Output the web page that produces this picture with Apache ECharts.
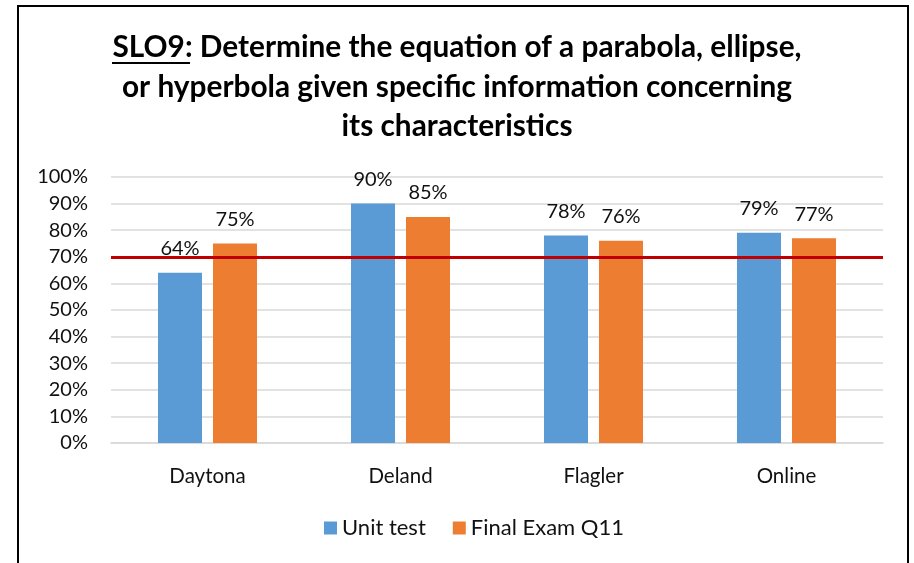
<!DOCTYPE html>
<html>
<head>
<meta charset="utf-8">
<script src="https://cdn.jsdelivr.net/npm/echarts@6/dist/echarts.min.js"></script>
<style>
  html, body { margin: 0; padding: 0; background: #fff; }
  #chart { width: 914px; height: 563px; }
</style>
</head>
<body>
<div id="chart"></div>
<script>
// 数据
const campuses = ['Daytona', 'Deland', 'Flagler', 'Online'];
const unitTest = [64, 90, 78, 79];
const finalExam = [75, 85, 76, 77];
const targetLine = 70;
const titleLines = [
  '{u|SLO9}: Determine the equation of a parabola, ellipse,',
  'or hyperbola given specific information concerning',
  'its characteristics'
];

const chart = echarts.init(document.getElementById('chart'));
const font = 'Lato, "Noto Sans", sans-serif';

const option = {
  animation: false,
  backgroundColor: '#fff',
  textStyle: { fontFamily: font },
  title: {
    text: titleLines.join('\n'),
    left: 'center',
    top: 28,
    padding: [0, 0, 0, 10],
    textStyle: {
      fontFamily: font,
      fontWeight: 'bold',
      fontSize: 29.8,
      lineHeight: 39.5,
      color: '#000',
      rich: {
        u: { fontFamily: font, fontWeight: 'bold', fontSize: 29.8, lineHeight: 39.5, color: '#000' }
      }
    }
  },
  // 外框 + SLO9 下划线
  graphic: [
    {
      type: 'rect',
      shape: { x: 18, y: 6, width: 890, height: 620 },
      style: { fill: 'none', stroke: '#000', lineWidth: 2 },
      silent: true
    },
    {
      type: 'line',
      shape: { x1: 112, y1: 63, x2: 190, y2: 63 },
      style: { stroke: '#000', lineWidth: 2 },
      silent: true
    }
  ],
  legend: {
    data: ['Unit test', 'Final Exam Q11'],
    top: 512,
    left: 319,
    itemWidth: 13,
    itemHeight: 13,
    itemGap: 27,
    icon: 'rect',
    textStyle: { fontFamily: font, fontSize: 22, color: '#111' }
  },
  grid: { left: 111, right: 31, top: 177, bottom: 120 },
  xAxis: {
    type: 'category',
    data: campuses,
    axisTick: { show: false },
    axisLine: { lineStyle: { color: '#D9D9D9', width: 1.5 } },
    axisLabel: { fontFamily: font, fontSize: 20.5, color: '#111', margin: 23 }
  },
  yAxis: {
    type: 'value',
    min: 0,
    max: 100,
    interval: 10,
    axisLine: { show: false },
    axisTick: { show: false },
    splitLine: { lineStyle: { color: '#D9D9D9', width: 1.5 } },
    axisLabel: { fontFamily: font, fontSize: 20, color: '#111', margin: 23, formatter: '{value}%' }
  },
  series: [
    {
      name: 'Unit test',
      type: 'bar',
      data: unitTest,
      barWidth: 44,
      barGap: '25%',
      itemStyle: { color: '#5B9BD5' },
      label: { show: true, position: 'top', distance: 14, fontFamily: font, fontSize: 20, color: '#111', formatter: '{c}%' },
      markLine: {
        silent: true,
        symbol: 'none',
        label: { show: false },
        lineStyle: { color: '#C00000', width: 3, type: 'solid' },
        data: [{ yAxis: targetLine }],
        z: 10
      }
    },
    {
      name: 'Final Exam Q11',
      type: 'bar',
      data: finalExam,
      barWidth: 44,
      itemStyle: { color: '#ED7D31' },
      label: { show: true, position: 'top', distance: 14, fontFamily: font, fontSize: 20, color: '#111', formatter: '{c}%' }
    }
  ]
};

chart.setOption(option);
</script>
</body>
</html>
